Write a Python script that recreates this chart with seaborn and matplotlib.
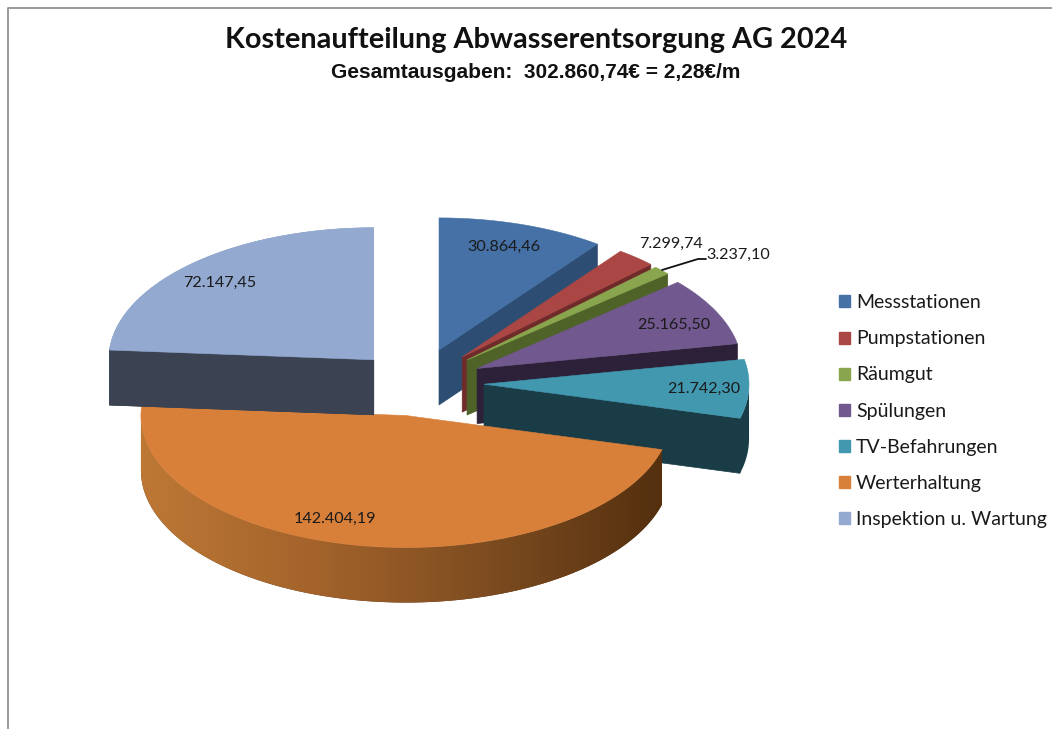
import numpy as np
import matplotlib
matplotlib.use("Agg")
import matplotlib.pyplot as plt
from matplotlib.patches import Patch, Polygon
import seaborn as sns

categories = ["Messstationen", "Pumpstationen", "Räumgut", "Spülungen",
              "TV-Befahrungen", "Werterhaltung", "Inspektion u. Wartung"]
values = [30864.46, 7299.74, 3237.10, 25165.50, 21742.30, 142404.19, 72147.45]
value_labels = ["30.864,46", "7.299,74", "3.237,10", "25.165,50",
                "21.742,30", "142.404,19", "72.147,45"]
explode = [0.264, 0.26, 0.257, 0.252, 0.253, 0.25, 0.24]

top_colors = ["#4571a6", "#aa4644", "#89a64e", "#71588f", "#4298af", "#d8803a", "#93a9cf"]
side_colors = ["#2d4e72", "#6f2b2a", "#4f6228", "#2c2138", "#1a3c47", "#5a3314", "#3b4252"]

# where the label text sits, in pixels of the picture
label_pos = [(504, 247), (671, 244), (738.5, 255), (674, 325), (704, 389), (334.5, 519), (219.5, 283)]

CX, CY = 417, 383
RX, RY = 265, 132
DEPTH = 55

sns.set_theme(style="white")
plt.rcParams["font.family"] = ["Lato", "DejaVu Sans"]

fig = plt.figure(figsize=(10.52, 7.29), dpi=100)
ax = fig.add_axes([0, 0, 1, 1])
ax.set_xlim(0, 1052)
ax.set_ylim(729, 0)
ax.axis("off")

# frame of the chart area, open to the right and the bottom
ax.plot([7.5, 7.5, 1052], [729, 7.5, 7.5], color="#9a9a9a", lw=1.4, zorder=1)


def arc(ox, oy, a0, a1, n=120):
    t = np.radians(np.linspace(a0, a1, n))
    return np.column_stack([ox + RX * np.sin(t), oy - RY * np.cos(t)])


def down(pts):
    return pts + np.array([0, DEPTH])


shares = np.array(values) / sum(values) * 360
ends = np.cumsum(shares)
starts = ends - shares
wall_ramp = sns.blend_palette(["#bd7835", "#a3632b", "#7d4c20", "#54300f"], 256)

z = 2
for i, (a0, a1) in enumerate(zip(starts, ends)):
    mid = np.radians((a0 + a1) / 2)
    ox = CX + explode[i] * RX * np.sin(mid)
    oy = CY - explode[i] * RY * np.cos(mid)
    apex = np.array([[ox, oy]])
    rim = arc(ox, oy, a0, a1)

    # cut faces that look to the viewer
    if a1 < 180:
        quad = np.vstack([apex, rim[-1:], down(rim[-1:]), down(apex)])
        ax.add_patch(Polygon(quad, fc=side_colors[i], ec=side_colors[i], lw=0.5, zorder=z))
    if a0 > 180:
        quad = np.vstack([apex, rim[:1], down(rim[:1]), down(apex)])
        ax.add_patch(Polygon(quad, fc=side_colors[i], ec=side_colors[i], lw=0.5, zorder=z))

    # outer wall, only the part on the front half
    w0, w1 = max(a0, 90), min(a1, 270)
    if w1 > w0:
        p = arc(ox, oy, w0, w1)
        wall = Polygon(np.vstack([p, down(p)[::-1]]), fc=side_colors[i], ec="none", zorder=z)
        ax.add_patch(wall)
        if categories[i] == "Werterhaltung":
            # shaded wall, dark on the right
            im = ax.imshow(np.array(wall_ramp)[None, :, :], aspect="auto", zorder=z,
                           extent=[p[:, 0].min(), p[:, 0].max(), p[:, 1].max() + DEPTH, p[:, 1].min()])
            im.set_clip_path(wall)
            ax.set_xlim(0, 1052)
            ax.set_ylim(729, 0)

    ax.add_patch(Polygon(np.vstack([apex, rim]), fc=top_colors[i], ec=top_colors[i], lw=0.4, zorder=z + 1))
    z += 2

# slate wall of the last slice lies over the orange top
last = len(values) - 1
mid = np.radians((starts[last] + ends[last]) / 2)
ox = CX + explode[last] * RX * np.sin(mid)
oy = CY - explode[last] * RY * np.cos(mid)
rim = arc(ox, oy, starts[last], ends[last])
quad = np.vstack([[[ox, oy]], rim[:1], down(rim[:1]), [[ox, oy + DEPTH]]])
ax.add_patch(Polygon(quad, fc=side_colors[last], ec=side_colors[last], lw=0.5, zorder=z))
ax.add_patch(Polygon(np.vstack([[[ox, oy]], rim]), fc=top_colors[last], ec=top_colors[last], lw=0.4, zorder=z + 1))
z += 2

for txt, (lx, ly) in zip(value_labels, label_pos):
    ax.text(lx, ly, txt, ha="center", va="center", fontsize=11.6, color="#1a1a1a", zorder=z)

# leader line of the small slice
ax.plot([662, 698, 706], [270, 259, 259], color="#111111", lw=1.3, zorder=z)

ax.text(536, 40, "Kostenaufteilung Abwasserentsorgung AG 2024", ha="center", va="center",
        fontsize=20.8, fontweight="bold", color="#111111", zorder=z)
ax.text(536, 72, "Gesamtausgaben:  302.860,74€ = 2,28€/m", ha="center", va="center",
        fontsize=15, fontweight="bold", color="#111111", family="Liberation Sans", zorder=z)

handles = [Patch(fc=c, ec=c) for c in top_colors]
ax.legend(handles, categories, loc="center left", bbox_to_anchor=(839 / 1052, 1 - 411 / 729),
          frameon=False, fontsize=14, labelcolor="#1a1a1a", handlelength=0.57, handleheight=0.57,
          handletextpad=0.31, labelspacing=0.98, borderpad=0, borderaxespad=0)

fig.savefig("out.png", dpi=100)
